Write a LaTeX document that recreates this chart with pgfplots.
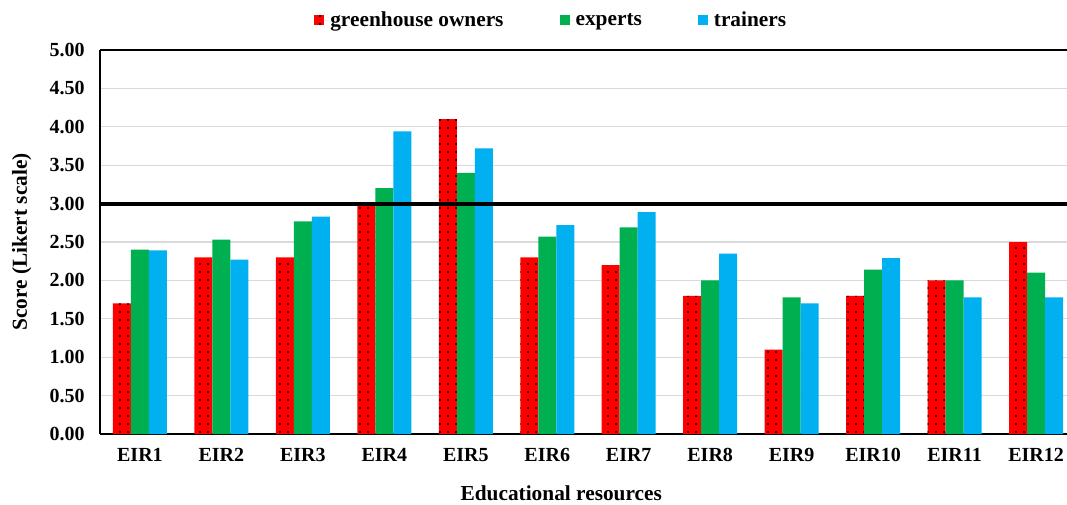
\documentclass[border=0pt]{standalone}
\usepackage{fontspec}
\setmainfont{Liberation Serif}
\usepackage{pgfplots}
\pgfplotsset{compat=1.18}
\usetikzlibrary{patterns.meta}
\definecolor{cred}{HTML}{FF0000}
\definecolor{cgreen}{HTML}{00B050}
\definecolor{cblue}{HTML}{00B0F0}
\definecolor{cgrid}{HTML}{D9D9D9}
\newcommand\tf{\bfseries\fontsize{15}{17}\selectfont}
\newcommand\lf{\bfseries\fontsize{16}{18}\selectfont}
\begin{document}
\begin{tikzpicture}
\useasboundingbox (0,0) rectangle (800.25pt,378pt);
\begin{axis}[
  at={(75pt,52.5pt)}, anchor=south west,
  scale only axis, width=725.25pt, height=288pt,
  ybar=0pt, bar width=13.5pt,
  xmin=-0.49, xmax=11.38, ymin=0, ymax=5,
  xtick={0,1,2,3,4,5,6,7,8,9,10,11},
  xticklabels={EIR1,EIR2,EIR3,EIR4,EIR5,EIR6,EIR7,EIR8,EIR9,EIR10,EIR11,EIR12},
  ytick={0,0.5,1,1.5,2,2.5,3,3.5,4,4.5,5},
  /pgf/number format/fixed,
  /pgf/number format/fixed zerofill,
  /pgf/number format/precision=2,
  /pgf/number format/assume math mode=true,
  ticklabel style={font=\tf},
  yticklabel style={xshift=-8pt},
  xticklabel style={yshift=-6pt, text height=11pt, text depth=0pt},
  major tick length=0pt,
  axis x line*=box, axis y line*=left,
  axis line style={-, line width=1.5pt, black},
  ymajorgrids, grid style={cgrid, line width=1pt},
  xlabel={Educational resources},
  ylabel={Score (Likert scale)},
  label style={font=\lf},
  xlabel style={at={(axis description cs:0.477,-0.154)}, anchor=center},
  ylabel style={at={(axis description cs:-0.081,0.5)}, anchor=center},
  legend columns=3,
  legend style={draw=none, fill=none, font=\lf, at={(axis description cs:0.467,1.078)}, anchor=center,
    /tikz/every even column/.append style={column sep=40pt}},
  legend image code/.code={\path[#1] (0pt,-3.75pt) rectangle (7.5pt,3.75pt); \path (7.5pt,0pt) -- (10pt,0pt);},
]
\addplot[draw=none, fill=cred, postaction={pattern={Dots[distance=6pt, radius=0.8pt]}, pattern color=black}]
 coordinates {(0,1.70) (1,2.30) (2,2.30) (3,3.00) (4,4.10) (5,2.30) (6,2.20) (7,1.80) (8,1.10) (9,1.80) (10,2.00) (11,2.50)};
\addplot[draw=none, fill=cgreen]
 coordinates {(0,2.40) (1,2.53) (2,2.77) (3,3.20) (4,3.40) (5,2.57) (6,2.69) (7,2.00) (8,1.78) (9,2.14) (10,2.00) (11,2.10)};
\addplot[draw=none, fill=cblue]
 coordinates {(0,2.39) (1,2.27) (2,2.83) (3,3.94) (4,3.72) (5,2.72) (6,2.89) (7,2.35) (8,1.70) (9,2.29) (10,1.78) (11,1.78)};
\legend{greenhouse owners, experts, trainers}
\addplot[sharp plot, black, line width=3pt, forget plot] coordinates {(-0.49,3) (11.38,3)};
\end{axis}
\end{tikzpicture}
\end{document}
